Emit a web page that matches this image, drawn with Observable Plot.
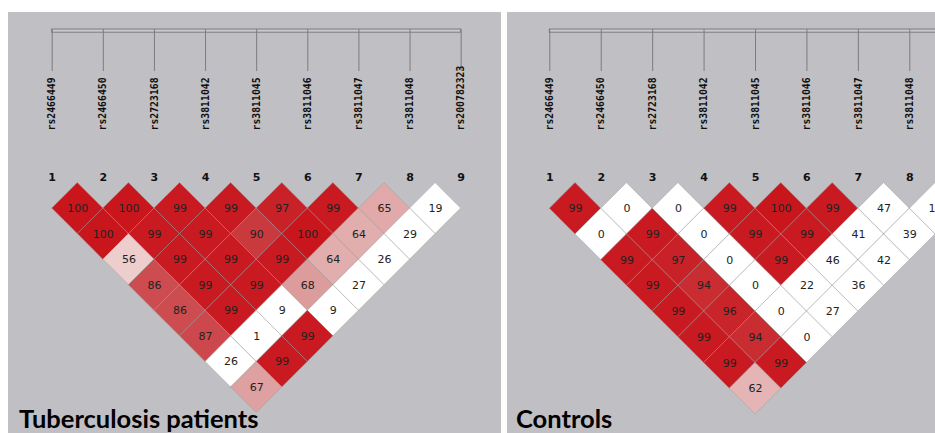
<!DOCTYPE html>
<html>
<head>
<meta charset="utf-8">
<script src="https://cdn.jsdelivr.net/npm/d3@7"></script>
<script src="https://cdn.jsdelivr.net/npm/@observablehq/plot@0.6"></script>
<style>
  html, body { margin: 0; padding: 0; background: #fff; overflow: hidden; }
  #wrap { position: relative; width: 935px; height: 433px; }
  .panel { position: absolute; top: 12px; height: 421px; background: #c0bfc3; overflow: hidden; }
  #tb { left: 8px; width: 493px; }
  #ctl { left: 507px; width: 428px; }
  .panel svg { position: absolute; left: 0; top: 0; background: transparent; }
  .title { position: absolute; bottom: 0; font-family: Lato, "Open Sans", sans-serif; font-weight: 700;
           font-size: 25.5px; line-height: 30px; color: #000; white-space: nowrap; }
</style>
</head>
<body>
<div id="wrap">
  <div class="panel" id="tb"><div class="title" style="left:11px">Tuberculosis patients</div></div>
  <div class="panel" id="ctl"><div class="title" style="left:9px">Controls</div></div>
</div>
<script>
// SNP markers, in map order
const markers = ["rs2466449", "rs2466450", "rs2723168", "rs3811042", "rs3811045",
                 "rs3811046", "rs3811047", "rs3811048", "rs200782323"];

// Pairwise D' (x100). Row k holds the pairs (i, i + k + 1) for i = 1, 2, ...
const tbDprime = [
  [100, 100, 99, 99, 97, 99, 65, 19],
  [100, 99, 99, 90, 100, 64, 29],
  [56, 99, 99, 99, 64, 26],
  [86, 99, 99, 68, 27],
  [86, 99, 9, 9],
  [87, 1, 99],
  [26, 99],
  [67]
];
const controlDprime = [
  [99, 0, 0, 99, 100, 99, 47, 15],
  [0, 99, 0, 99, 99, 41, 39],
  [99, 97, 0, 99, 46, 42],
  [99, 94, 0, 22, 36],
  [99, 96, 0, 27],
  [99, 94, 0],
  [99, 99],
  [62]
];

// LD colour ramp: weak linkage white, strong linkage red
const ldColor = {
  type: "linear",
  domain: [0, 49.9, 50, 70, 90, 100],
  range: ["#ffffff", "#ffffff", "#f6e6e6", "#da9494", "#c93a3f", "#c8161c"],
  interpolate: "rgb",
  clamp: true
};

function ldPanel({el, rows, width, height, left, unit, top}) {
  // cell (i, j): centre u = (i + j) / 2, v = (j - i) / 2, drawn as a diamond
  const cells = [];
  rows.forEach((row, k) => row.forEach((value, idx) => {
    const i = idx + 1, j = i + k + 1;
    cells.push({id: `${i}-${j}`, u: (i + j) / 2, v: (j - i) / 2, value});
  }));
  const corners = cells.flatMap(c => [
    {id: c.id, value: c.value, x: c.u - 0.5, y1: c.v, y2: c.v},
    {id: c.id, value: c.value, x: c.u, y1: c.v - 0.5, y2: c.v + 0.5},
    {id: c.id, value: c.value, x: c.u + 0.5, y1: c.v, y2: c.v}
  ]);
  const snps = markers.map((name, i) => ({name, index: i + 1}));
  // header rows, in pixels above the apex of the triangle
  const px = p => p / unit;
  const barTop = px(-153.5), barBottom = px(-150.3), tickEnd = px(-111.5),
        labelBase = px(-52.5), numberRow = px(-2.2);
  const n = markers.length;

  const chart = Plot.plot({
    width, height,
    marginLeft: left, marginRight: 0, marginTop: top, marginBottom: 0,
    x: {domain: [1, 1 + (width - left) / unit], axis: null},
    y: {domain: [0, (height - top) / unit], reverse: true, axis: null},
    color: ldColor,
    style: {background: "transparent", overflow: "visible"},
    marks: [
      Plot.rect([0], {x1: 1, x2: n, y1: barTop, y2: barBottom, fill: "#c9c8cc", stroke: "#7c7c7e", strokeWidth: 1}),
      Plot.ruleX(snps, {x: "index", y1: barTop, y2: tickEnd, stroke: "#7c7c7e", strokeWidth: 1}),
      Plot.text(snps, {x: "index", y: labelBase, text: "name", rotate: -90, textAnchor: "start",
                       lineAnchor: "middle", fontFamily: "DejaVu Sans Mono", fontWeight: "bold",
                       fontSize: 9.8, fill: "#101010"}),
      Plot.text(snps, {x: "index", y: numberRow, text: d => String(d.index), lineAnchor: "bottom",
                       fontFamily: "DejaVu Sans", fontWeight: "bold", fontSize: 11, fill: "#111"}),
      Plot.areaY(corners, {x: "x", y1: "y1", y2: "y2", z: "id", fill: "value", curve: "linear",
                           stroke: "#9a9a9a", strokeOpacity: 0.45, strokeWidth: 1}),
      Plot.text(cells, {x: "u", y: "v", text: d => String(d.value), fontFamily: "DejaVu Sans",
                        fontSize: 11, fill: "#222"})
    ]
  });
  document.getElementById(el).prepend(chart);
}

ldPanel({el: "tb", rows: tbDprime, width: 493, height: 421, left: 43.7, unit: 51.12, top: 170.5});
ldPanel({el: "ctl", rows: controlDprime, width: 428, height: 421, left: 42.3, unit: 51.43, top: 170.5});
</script>
</body>
</html>
